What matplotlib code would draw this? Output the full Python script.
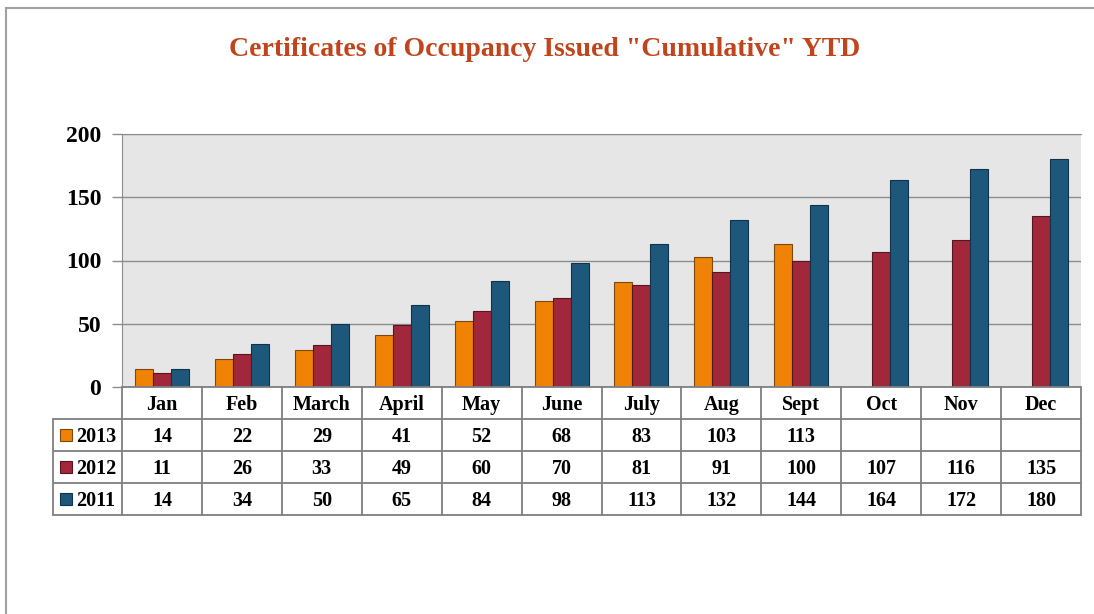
import matplotlib
matplotlib.use("Agg")
import matplotlib.pyplot as plt
from matplotlib.patches import Rectangle

months = ["Jan", "Feb", "March", "April", "May", "June", "July", "Aug", "Sept", "Oct", "Nov", "Dec"]
series_names = ["2013", "2012", "2011"]
v2013 = [14, 22, 29, 41, 52, 68, 83, 103, 113, None, None, None]
v2012 = [11, 26, 33, 49, 60, 70, 81, 91, 100, 107, 116, 135]
v2011 = [14, 34, 50, 65, 84, 98, 113, 132, 144, 164, 172, 180]
colors = ["#F08205", "#A1283A", "#1D587B"]
edges = ["#7a4a10", "#5a1420", "#10324a"]
yticks = [0, 50, 100, 150, 200]
title = 'Certificates of Occupancy Issued "Cumulative" YTD'

W, H = 1094, 614
FONT = "Liberation Serif"
fig = plt.figure(figsize=(W / 100, H / 100), dpi=100)

def fx(px):
    return px / W

def fy(py):
    return 1 - py / H

# outer border
fig.add_artist(plt.Line2D([fx(6), fx(6)], [fy(8), 0], color="#a0a0a0", lw=1.5))
fig.add_artist(plt.Line2D([fx(6), 1], [fy(8), fy(8)], color="#a0a0a0", lw=1.5))

fig.text(fx(545), fy(50), title, ha="center", va="center", color="#C0441C",
         fontsize=20, fontweight="bold", family=FONT)

L, R, T, B = 122, 1081, 134, 387
ax = fig.add_axes([fx(L), fy(B), fx(R) - fx(L), fy(T) - fy(B)])
ax.set_facecolor("#E6E6E6")
ax.set_xlim(0, 12)
ax.set_ylim(0, 200)
series = [v2013, v2012, v2011]
bw = 0.225
for si, vals in enumerate(series):
    xs, hs = [], []
    for i, v in enumerate(vals):
        if v is not None:
            xs.append(i + 0.5 + (si - 1) * bw)
            hs.append(v)
    ax.bar(xs, hs, width=bw, color=colors[si], edgecolor=edges[si], linewidth=0.8, zorder=3)
ax.set_yticks(yticks)
ax.set_yticklabels([str(t) for t in yticks], fontsize=17, fontweight="bold", family=FONT)
ax.yaxis.grid(True, color="#8c8c8c", lw=1.0, zorder=1)
ax.set_xticks([])
ax.tick_params(axis="y", length=7, width=1, color="#8c8c8c", pad=8)
for s in ["right", "bottom"]:
    ax.spines[s].set_visible(False)
ax.spines["top"].set_color("#8c8c8c")
ax.spines["left"].set_color("#8c8c8c")

# data table
TB = 515
tax = fig.add_axes([fx(L), fy(TB), fx(R) - fx(L), fy(B) - fy(TB)])
tax.set_xlim(0, 12)
tax.set_ylim(4, 0)
tax.axis("off")
lc = "#7f7f7f"
cw = (R - L) / 12
left_x = -(L - 53) / cw
lw = 1.3
TFS = 14.5
dy = 2 / 32  # small downward text offset within cells
for r in range(5):
    x0 = 0 if r == 0 else left_x
    tax.plot([x0, 12], [r, r], color=lc, lw=lw, clip_on=False, solid_capstyle="butt")
for c in range(13):
    tax.plot([c, c], [0, 4], color=lc, lw=lw, clip_on=False)
tax.plot([left_x, left_x], [1, 4], color=lc, lw=lw, clip_on=False)
for c, m in enumerate(months):
    tax.text(c + 0.5, 0.5 + dy, m, ha="center", va="center", fontsize=TFS,
             fontweight="bold", family=FONT)
for si, vals in enumerate(series):
    row = si + 1
    for c, v in enumerate(vals):
        if v is not None:
            tax.text(c + 0.5, row + 0.5 + dy, str(v), ha="center", va="center",
                     fontsize=TFS, fontweight="bold", family=FONT)
    ksz = 12 / cw
    ky = 12 / 32
    tax.add_patch(Rectangle((left_x + 7 / cw, row + 0.5 - ky / 2), ksz, ky,
                            facecolor=colors[si], edgecolor=edges[si], lw=0.8, clip_on=False))
    tax.text(left_x + 23 / cw, row + 0.5 + dy, series_names[si], ha="left", va="center",
             fontsize=TFS, fontweight="bold", family=FONT)

fig.savefig("out.png", dpi=100)
